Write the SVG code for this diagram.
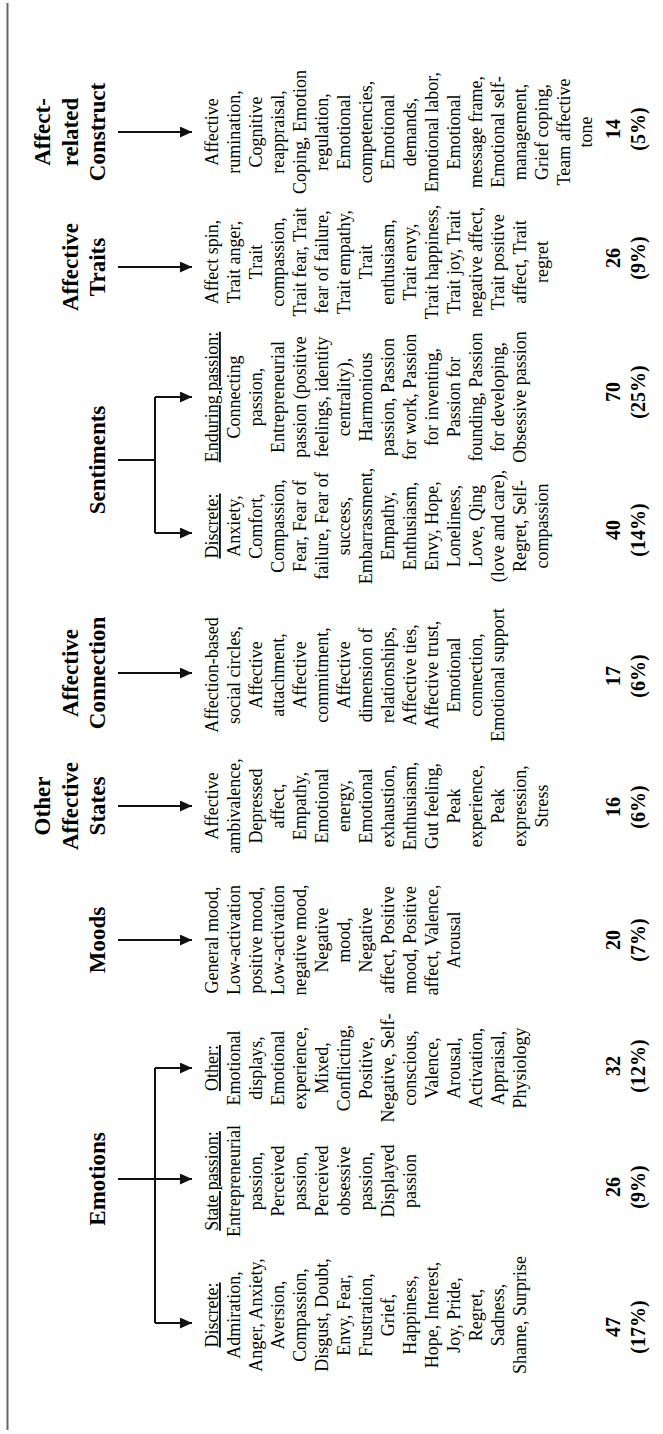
<svg xmlns="http://www.w3.org/2000/svg" width="663" height="1434" viewBox="0 0 663 1434">
<defs>
<style>
.hdr{font-family:"Liberation Serif","Times New Roman",serif;font-weight:bold;font-size:23px;fill:#000;text-anchor:middle}
.body{font-family:"Liberation Serif","Times New Roman",serif;font-size:18px;fill:#000;text-anchor:middle}
.num{font-family:"Liberation Serif","Times New Roman",serif;font-weight:bold;font-size:20px;fill:#000;text-anchor:middle}
.ul{text-decoration:underline}
.ln{stroke:#111;stroke-width:2;fill:none}
.frame{stroke:#666;stroke-width:2;fill:none}
</style>
<marker id="ah" viewBox="0 0 12 11" refX="12" refY="5.5" markerWidth="12" markerHeight="11" markerUnits="userSpaceOnUse" orient="auto">
<path d="M0,0 L12,5.5 L0,11 Z" fill="#111"/>
</marker>
</defs>
<rect width="663" height="1434" fill="#fff"/>
<g transform="translate(0,1434) rotate(-90)">
<line class="frame" x1="4" y1="7.5" x2="1431" y2="7.5"/>

<g id="connectors">
<line class="ln" x1="1302" y1="118" x2="1302" y2="192" marker-end="url(#ah)"/>
<line class="ln" x1="1167" y1="118" x2="1167" y2="192" marker-end="url(#ah)"/>
<polyline class="ln" points="974,118 974,155"/>
<polyline class="ln" points="1037,155 901,155"/>
<line class="ln" x1="1037" y1="155" x2="1037" y2="192" marker-end="url(#ah)"/>
<line class="ln" x1="901" y1="155" x2="901" y2="192" marker-end="url(#ah)"/>
<line class="ln" x1="761" y1="118" x2="761" y2="192" marker-end="url(#ah)"/>
<line class="ln" x1="628" y1="118" x2="628" y2="192" marker-end="url(#ah)"/>
<line class="ln" x1="494" y1="118" x2="494" y2="192" marker-end="url(#ah)"/>
<line class="ln" x1="255" y1="118" x2="255" y2="192" marker-end="url(#ah)"/>
<polyline class="ln" points="366,155 111,155"/>
<line class="ln" x1="366" y1="155" x2="366" y2="192" marker-end="url(#ah)"/>
<line class="ln" x1="111" y1="155" x2="111" y2="192" marker-end="url(#ah)"/>
</g>

<g id="affect-related-construct">
<text class="hdr" x="1302" y="50">Affect-<tspan x="1302" dy="27.5">related</tspan><tspan x="1302" dy="27.5">Construct</tspan></text>
<text class="body" x="1302" y="218">Affective<tspan x="1302" dy="22">rumination,</tspan><tspan x="1302" dy="22">Cognitive</tspan><tspan x="1302" dy="22">reappraisal,</tspan><tspan x="1302" dy="22">Coping, Emotion</tspan><tspan x="1302" dy="22">regulation,</tspan><tspan x="1302" dy="22">Emotional</tspan><tspan x="1302" dy="22">competencies,</tspan><tspan x="1302" dy="22">Emotional</tspan><tspan x="1302" dy="22">demands,</tspan><tspan x="1302" dy="22">Emotional labor,</tspan><tspan x="1302" dy="22">Emotional</tspan><tspan x="1302" dy="22">message frame,</tspan><tspan x="1302" dy="22">Emotional self-</tspan><tspan x="1302" dy="22">management,</tspan><tspan x="1302" dy="22">Grief coping,</tspan><tspan x="1302" dy="22">Team affective</tspan><tspan x="1302" dy="22">tone</tspan></text>
<text class="num" x="1305" y="620">14<tspan x="1305" dy="25">(5%)</tspan></text>
</g>

<g id="affective-traits">
<text class="hdr" x="1167" y="77.5">Affective<tspan x="1167" dy="27.5">Traits</tspan></text>
<text class="body" x="1172" y="218">Affect spin,<tspan x="1172" dy="22">Trait anger,</tspan><tspan x="1172" dy="22">Trait</tspan><tspan x="1172" dy="22">compassion,</tspan><tspan x="1172" dy="22">Trait fear, Trait</tspan><tspan x="1172" dy="22">fear of failure,</tspan><tspan x="1172" dy="22">Trait empathy,</tspan><tspan x="1172" dy="22">Trait</tspan><tspan x="1172" dy="22">enthusiasm,</tspan><tspan x="1172" dy="22">Trait envy,</tspan><tspan x="1172" dy="22">Trait happiness,</tspan><tspan x="1172" dy="22">Trait joy, Trait</tspan><tspan x="1172" dy="22">negative affect,</tspan><tspan x="1172" dy="22">Trait positive</tspan><tspan x="1172" dy="22">affect, Trait</tspan><tspan x="1172" dy="22">regret</tspan></text>
<text class="num" x="1176" y="620">26<tspan x="1176" dy="25">(9%)</tspan></text>
</g>

<g id="sentiments">
<text class="hdr" x="974" y="105">Sentiments</text>
<text class="body" x="1037" y="218"><tspan class="ul">Enduring passion:</tspan><tspan x="1037" dy="22">Connecting</tspan><tspan x="1037" dy="22">passion,</tspan><tspan x="1037" dy="22">Entrepreneurial</tspan><tspan x="1037" dy="22">passion (positive</tspan><tspan x="1037" dy="22">feelings, identity</tspan><tspan x="1037" dy="22">centrality),</tspan><tspan x="1037" dy="22">Harmonious</tspan><tspan x="1037" dy="22">passion, Passion</tspan><tspan x="1037" dy="22">for work, Passion</tspan><tspan x="1037" dy="22">for inventing,</tspan><tspan x="1037" dy="22">Passion for</tspan><tspan x="1037" dy="22">founding, Passion</tspan><tspan x="1037" dy="22">for developing,</tspan><tspan x="1037" dy="22">Obsessive passion</tspan></text>
<text class="num" x="1042" y="620">70<tspan x="1042" dy="25">(25%)</tspan></text>
<text class="body" x="908" y="218"><tspan class="ul">Discrete:</tspan><tspan x="908" dy="22">Anxiety,</tspan><tspan x="908" dy="22">Comfort,</tspan><tspan x="908" dy="22">Compassion,</tspan><tspan x="908" dy="22">Fear, Fear of</tspan><tspan x="908" dy="22">failure, Fear of</tspan><tspan x="908" dy="22">success,</tspan><tspan x="908" dy="22">Embarrassment,</tspan><tspan x="908" dy="22">Empathy,</tspan><tspan x="908" dy="22">Enthusiasm,</tspan><tspan x="908" dy="22">Envy, Hope,</tspan><tspan x="908" dy="22">Loneliness,</tspan><tspan x="908" dy="22">Love, Qing</tspan><tspan x="908" dy="22">(love and care),</tspan><tspan x="908" dy="22">Regret, Self-</tspan><tspan x="908" dy="22">compassion</tspan></text>
<text class="num" x="904" y="620">40<tspan x="904" dy="25">(14%)</tspan></text>
</g>

<g id="affective-connection">
<text class="hdr" x="761" y="77.5">Affective<tspan x="761" dy="27.5">Connection</tspan></text>
<text class="body" x="759" y="218">Affection-based<tspan x="759" dy="22">social circles,</tspan><tspan x="759" dy="22">Affective</tspan><tspan x="759" dy="22">attachment,</tspan><tspan x="759" dy="22">Affective</tspan><tspan x="759" dy="22">commitment,</tspan><tspan x="759" dy="22">Affective</tspan><tspan x="759" dy="22">dimension of</tspan><tspan x="759" dy="22">relationships,</tspan><tspan x="759" dy="22">Affective ties,</tspan><tspan x="759" dy="22">Affective trust,</tspan><tspan x="759" dy="22">Emotional</tspan><tspan x="759" dy="22">connection,</tspan><tspan x="759" dy="22">Emotional support</tspan></text>
<text class="num" x="758" y="620">17<tspan x="758" dy="25">(6%)</tspan></text>
</g>

<g id="other-affective-states">
<text class="hdr" x="628" y="50">Other<tspan x="628" dy="27.5">Affective</tspan><tspan x="628" dy="27.5">States</tspan></text>
<text class="body" x="628" y="218">Affective<tspan x="628" dy="22">ambivalence,</tspan><tspan x="628" dy="22">Depressed</tspan><tspan x="628" dy="22">affect,</tspan><tspan x="628" dy="22">Empathy,</tspan><tspan x="628" dy="22">Emotional</tspan><tspan x="628" dy="22">energy,</tspan><tspan x="628" dy="22">Emotional</tspan><tspan x="628" dy="22">exhaustion,</tspan><tspan x="628" dy="22">Enthusiasm,</tspan><tspan x="628" dy="22">Gut feeling,</tspan><tspan x="628" dy="22">Peak</tspan><tspan x="628" dy="22">experience,</tspan><tspan x="628" dy="22">Peak</tspan><tspan x="628" dy="22">expression,</tspan><tspan x="628" dy="22">Stress</tspan></text>
<text class="num" x="627" y="620">16<tspan x="627" dy="25">(6%)</tspan></text>
</g>

<g id="moods">
<text class="hdr" x="494" y="105">Moods</text>
<text class="body" x="494" y="218">General mood,<tspan x="494" dy="22">Low-activation</tspan><tspan x="494" dy="22">positive mood,</tspan><tspan x="494" dy="22">Low-activation</tspan><tspan x="494" dy="22">negative mood,</tspan><tspan x="494" dy="22">Negative</tspan><tspan x="494" dy="22">mood,</tspan><tspan x="494" dy="22">Negative</tspan><tspan x="494" dy="22">affect, Positive</tspan><tspan x="494" dy="22">mood, Positive</tspan><tspan x="494" dy="22">affect, Valence,</tspan><tspan x="494" dy="22">Arousal</tspan></text>
<text class="num" x="494" y="620">20<tspan x="494" dy="25">(7%)</tspan></text>
</g>

<g id="emotions">
<text class="hdr" x="255" y="105">Emotions</text>
<text class="body" x="366" y="218"><tspan class="ul">Other:</tspan><tspan x="366" dy="22">Emotional</tspan><tspan x="366" dy="22">displays,</tspan><tspan x="366" dy="22">Emotional</tspan><tspan x="366" dy="22">experience,</tspan><tspan x="366" dy="22">Mixed,</tspan><tspan x="366" dy="22">Conflicting,</tspan><tspan x="366" dy="22">Positive,</tspan><tspan x="366" dy="22">Negative, Self-</tspan><tspan x="366" dy="22">conscious,</tspan><tspan x="366" dy="22">Valence,</tspan><tspan x="366" dy="22">Arousal,</tspan><tspan x="366" dy="22">Activation,</tspan><tspan x="366" dy="22">Appraisal,</tspan><tspan x="366" dy="22">Physiology</tspan></text>
<text class="num" x="368" y="620">32<tspan x="368" dy="25">(12%)</tspan></text>
<text class="body" x="253" y="218"><tspan class="ul">State passion:</tspan><tspan x="253" dy="22">Entrepreneurial</tspan><tspan x="253" dy="22">passion,</tspan><tspan x="253" dy="22">Perceived</tspan><tspan x="253" dy="22">passion,</tspan><tspan x="253" dy="22">Perceived</tspan><tspan x="253" dy="22">obsessive</tspan><tspan x="253" dy="22">passion,</tspan><tspan x="253" dy="22">Displayed</tspan><tspan x="253" dy="22">passion</tspan></text>
<text class="num" x="247" y="620">26<tspan x="247" dy="25">(9%)</tspan></text>
<text class="body" x="119" y="218"><tspan class="ul">Discrete:</tspan><tspan x="119" dy="22">Admiration,</tspan><tspan x="119" dy="22">Anger, Anxiety,</tspan><tspan x="119" dy="22">Aversion,</tspan><tspan x="119" dy="22">Compassion,</tspan><tspan x="119" dy="22">Disgust, Doubt,</tspan><tspan x="119" dy="22">Envy, Fear,</tspan><tspan x="119" dy="22">Frustration,</tspan><tspan x="119" dy="22">Grief,</tspan><tspan x="119" dy="22">Happiness,</tspan><tspan x="119" dy="22">Hope, Interest,</tspan><tspan x="119" dy="22">Joy, Pride,</tspan><tspan x="119" dy="22">Regret,</tspan><tspan x="119" dy="22">Sadness,</tspan><tspan x="119" dy="22">Shame, Surprise</tspan></text>
<text class="num" x="107" y="620">47<tspan x="107" dy="25">(17%)</tspan></text>
</g>
</g>
</svg>
